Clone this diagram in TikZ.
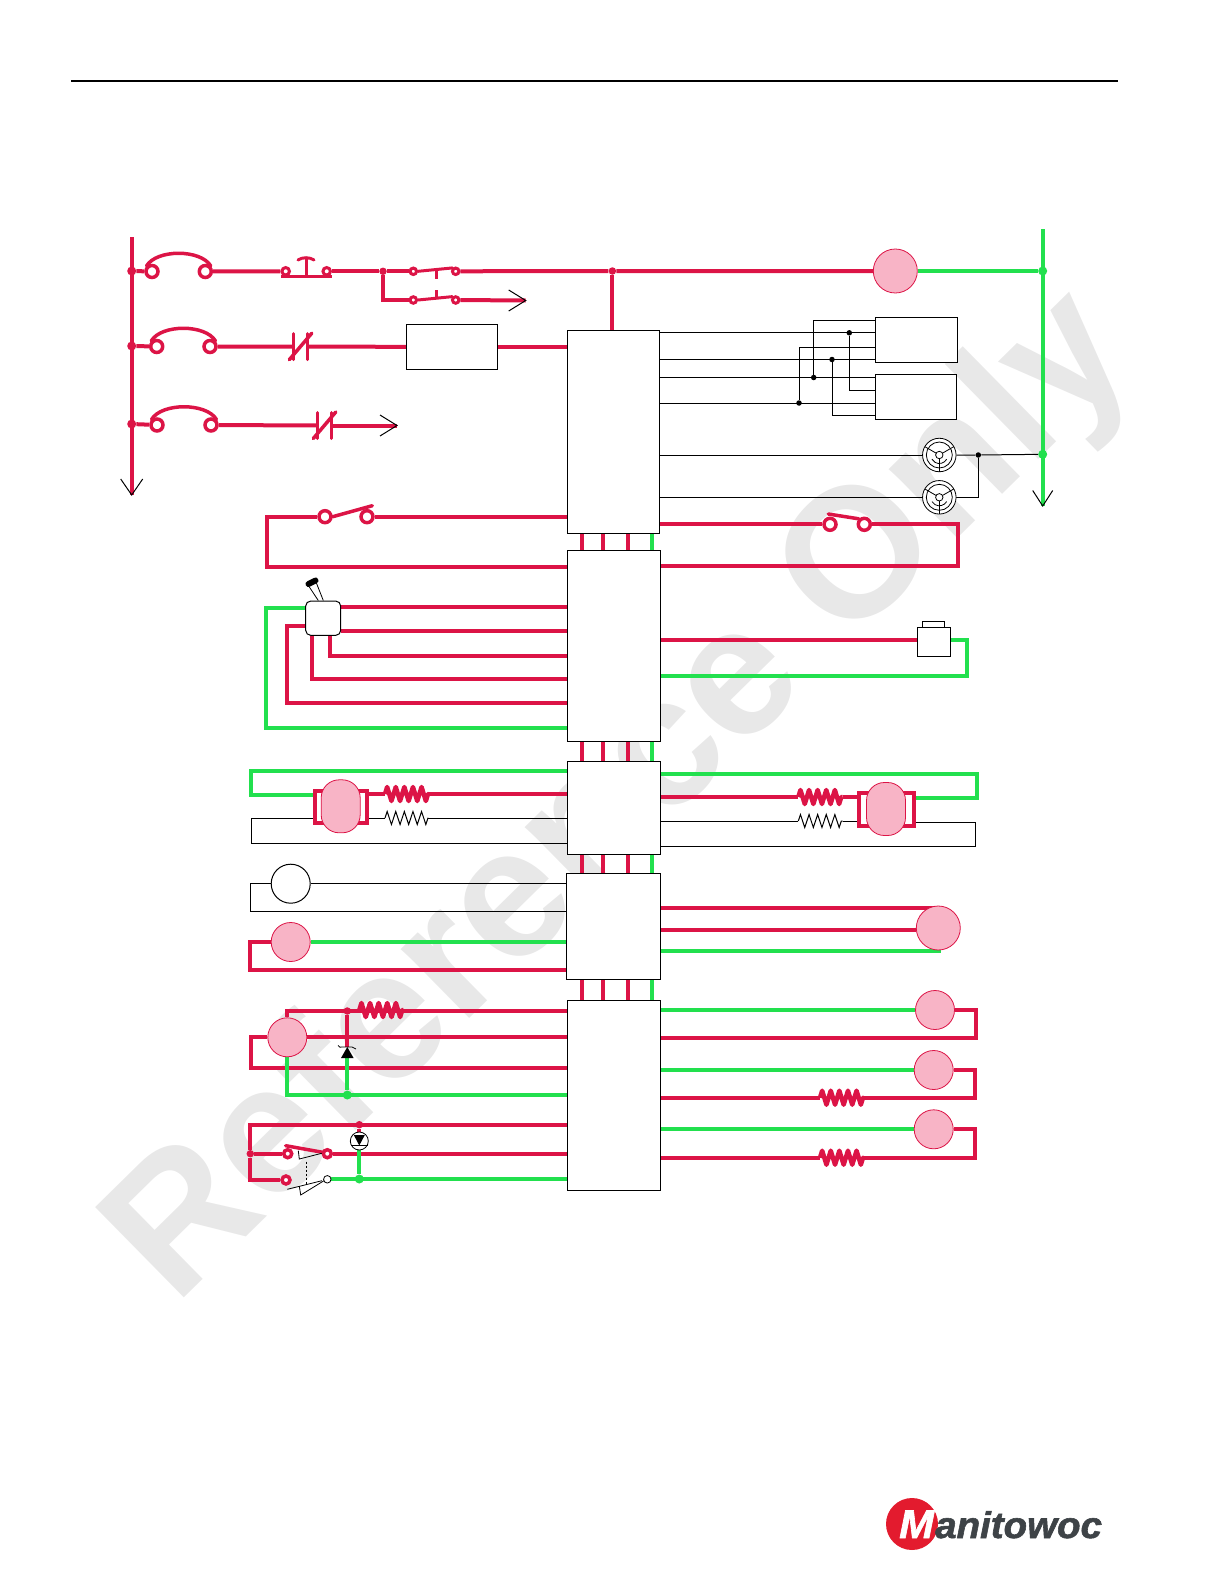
\documentclass[tikz,border=0pt]{standalone}
\usepackage{fontspec}
\newfontfamily\wmfont{Liberation Sans}
\newfontfamily\logofont{Liberation Sans}[FakeBold=1.6,FakeStretch=1.04]
\usetikzlibrary{decorations.pathmorphing}
\definecolor{wirered}{HTML}{DC1446}
\definecolor{wiregreen}{HTML}{22E04E}
\definecolor{pinkfill}{HTML}{F8B4C6}
\definecolor{wmgray}{HTML}{E8E8E8}
\definecolor{logored}{HTML}{E31B2E}
\definecolor{logogray}{HTML}{3E4347}
\pgfdeclarelayer{wmark}
\pgfdeclarelayer{wires}
\pgfsetlayers{wmark,wires,main}
\tikzset{
  redwire/.style={draw=wirered,line width=4},
  greenwire/.style={draw=wiregreen,line width=4},
  sigwire/.style={draw=black,line width=1},
  modbox/.style={draw=black,line width=1,fill=white,inner sep=0},
  pinkball/.style={circle,draw=wirered,line width=0.8,fill=pinkfill,inner sep=0,minimum size=39},
  pinkoval/.style={rectangle,rounded corners=18,draw=wirered,line width=0.8,fill=pinkfill,inner sep=0,minimum width=39,minimum height=53},
  clutchbox/.style={draw=wirered,line width=4,fill=white,inner sep=0,minimum width=52,minimum height=32},
  ring/.style={circle,draw=wirered,line width=3.5,fill=white,inner sep=0,minimum size=12},
  smallring/.style={circle,draw=wirered,line width=3,fill=white,inner sep=0,minimum size=6.5},
  reddot/.style={circle,fill=wirered,inner sep=0,minimum size=9},
  greendot/.style={circle,fill=wiregreen,inner sep=0,minimum size=9},
  blackdot/.style={circle,fill=black,inner sep=0,minimum size=5.5},
  lampsym/.style={circle,draw=black,line width=0.8,fill=white,inner sep=0,minimum size=33.5},
  coilred/.style={draw=wirered,line width=4.5,line join=round,decorate,decoration={zigzag,segment length=8.6,amplitude=7}},
  coilblack/.style={draw=black,line width=1,decorate,decoration={zigzag,segment length=8.6,amplitude=6.5}},
  armred/.style={draw=wirered,line width=3.5,line cap=round},
  tipmark/.style={draw=black,line width=1}
}
\begin{document}
\begin{tikzpicture}[x=1pt,y=-1pt]
	\useasboundingbox (0,0) rectangle (1224,1584);
	\begin{pgfonlayer}{wmark}
		\node[rotate=44.5,text=wmgray,font=\wmfont\bfseries\fontsize{184}{184}\selectfont] (wmtext) at (624,800) {Reference Only};
	\end{pgfonlayer}
	\draw[line width=1.6] (71,81) -- (1117.5,81);
	% modules
	\node[modbox,minimum width=92,minimum height=203] (modA) at (613.5,431.8) {};
	\node[modbox,minimum width=93,minimum height=191] (modB) at (614.2,646.2) {};
	\node[modbox,minimum width=93,minimum height=93] (modC) at (613.8,807.8) {};
	\node[modbox,minimum width=94,minimum height=106] (modD) at (613.3,926.3) {};
	\node[modbox,minimum width=93,minimum height=190.7] (modE) at (613.8,1095.6) {};
	\node[modbox,minimum width=90.7,minimum height=45] (boxP) at (452.3,346.8) {};
	\node[modbox,minimum width=82,minimum height=45] (boxA) at (916.3,339.8) {};
	\node[modbox,minimum width=81,minimum height=45] (boxB) at (915.8,396.8) {};
	\node[modbox,minimum width=22,minimum height=6] (capS) at (933.3,624.3) {};
	\node[modbox,minimum width=33.4,minimum height=29] (boxS) at (934,641.8) {};
	% rails and top rung
	\coordinate (railLtop) at (131.7,237);
	\coordinate (railLend) at (131.7,495);
	\coordinate (railRtop) at (1042.7,229);
	\coordinate (railRend) at (1042.7,506);
	\node[reddot] (dotRailA) at (131.7,271) {};
	\node[reddot] (dotRailB) at (131.7,346) {};
	\node[reddot] (dotRailC) at (131.7,424) {};
	\foreach \idx/\xa/\xb/\yy in {A/152/205.3/271.5,B/156.7/210/346.5,C/157/211/425}
	{
		\node[ring] (brk\idx a) at (\xa,\yy) {};
		\node[ring] (brk\idx b) at (\xb,\yy) {};
		\draw[armred] (brk\idx a.north west) .. controls +(10,-17) and +(-10,-17) .. (brk\idx b.north east);
	}
	\node[smallring,minimum size=7.5] (btnA) at (285.7,271.3) {};
	\node[smallring,minimum size=7.5] (btnB) at (326.7,271.3) {};
	\draw[armred,line cap=butt] (281,276.3) -- (332,276.3);
	\draw[armred,line width=3] (306,276) -- (306,258);
	\draw[armred,line width=3] (298,260) .. controls (302,257) and (310,257) .. (314,260);
	\node[reddot,minimum size=7.5] (dotSplit) at (383,271.3) {};
	\node[smallring] (nocAa) at (413.3,271.3) {};
	\node[smallring] (nocAb) at (455.7,271.3) {};
	\node[smallring] (nocBa) at (413.3,300) {};
	\node[smallring] (nocBb) at (455.7,300) {};
	\draw[armred,line width=3] (nocAa.east) -- (nocAb.north west);
	\draw[armred,line width=3] (nocBa.east) -- (nocBb.north west);
	\draw[armred,line width=3,line cap=butt] (436.7,270) -- (436.7,278.7);
	\draw[armred,line width=3,line cap=butt] (436.7,290) -- (436.7,298.5);
	\node[reddot,minimum size=7.5] (dotFeed) at (612.4,271) {};
	\node[pinkball,minimum size=44] (relayK) at (895.3,271) {};
	\node[greendot] (dotGndA) at (1042.7,271) {};
	\node[greendot] (dotGndB) at (1042.7,454.3) {};
	\coordinate (tipA) at (525.7,300.5);
	\coordinate (tipB) at (397,425.5);
	% normally closed contacts
	\foreach \name/\xa/\xb/\yy in {ncA/293.3/307.3/346.7,ncB/317.3/331.3/425.5}
	{
		\coordinate (\name l) at (\xa,\yy);
		\coordinate (\name r) at (\xb,\yy);
		\draw[armred,line width=3] (\xa,\yy-13) -- (\xa,\yy+13);
		\draw[armred,line width=3] (\xb,\yy-13) -- (\xb,\yy+13);
		\draw[armred] (\xa-4,\yy+13) -- (\xb+4.5,\yy-13.5);
	}
	% control lines
	\node[blackdot] (dotCtlA) at (849.3,332.8) {};
	\node[blackdot] (dotCtlB) at (832,359.5) {};
	\node[blackdot] (dotCtlC) at (813.7,377.5) {};
	\node[blackdot] (dotCtlD) at (799,403) {};
	\node[lampsym] (lampA) at (939.3,455) {};
	\node[lampsym] (lampB) at (939.3,497.3) {};
	\foreach \lamp in {lampA,lampB}
	{
		\draw[line width=0.8] (\lamp) circle (13);
		\draw[line width=0.8] (\lamp) ++(30:8.5) arc[start angle=30,end angle=150,radius=8.5];
		\foreach \ang in {90,210,330}
		{
			\draw[line width=0.8] (\lamp) ++(\ang:3.7) -- ++(\ang:13);
		}
		\draw[line width=0.8,fill=white] (\lamp) circle (3.7);
	}
	\node[blackdot] (dotLamp) at (978.3,455) {};
	% contacts beside modules
	\node[ring] (ctcA) at (830,524.3) {};
	\node[ring] (ctcB) at (864.3,524.3) {};
	\draw[armred] (828.3,514) -- (ctcB.north west);
	\node[ring] (ctcC) at (325,516.7) {};
	\node[ring] (ctcD) at (367,516.7) {};
	\draw[armred] (ctcC.east) -- (372.3,505.7);
	\coordinate (cornerA) at (958.3,524.3);
	\coordinate (cornerB) at (266.7,516.7);
	% joystick
	\node[modbox,rounded corners=5,minimum width=35,minimum height=34.3] (joyS) at (323.2,618.2) {};
	\draw[line width=0.8] (318.3,600.5) -- (308,585);
	\draw[line width=0.8] (323.3,600.5) -- (316,582);
	\draw[line width=6,line cap=round] (308.5,584) -- (315.5,580.5);
	\coordinate (joyCa) at (265.7,608.3);
	\coordinate (joyCb) at (287,626);
	\coordinate (joyCc) at (330,655.7);
	\coordinate (joyCd) at (312,679);
	\coordinate (cornerS) at (967.3,640);
	% clutches
	\node[clutchbox] (clutchA) at (340.5,806.7) {};
	\node[pinkoval] (ovalA) at (340.7,806.3) {};
	\node[clutchbox,minimum width=55,minimum height=33] (clutchB) at (886.7,809.2) {};
	\node[pinkoval] (ovalB) at (886,809) {};
	\coordinate (coilAa) at (385,794);
	\coordinate (coilAb) at (428.3,794);
	\coordinate (resAa) at (385,818);
	\coordinate (resAb) at (428.3,818);
	\coordinate (coilBa) at (798.3,797);
	\coordinate (coilBb) at (842.7,797);
	\coordinate (resBa) at (798.3,821);
	\coordinate (resBb) at (842.7,821);
	% balls
	\node[modbox,circle,minimum size=39] (ballW) at (290.7,883.7) {};
	\node[pinkball] (ballF) at (290.7,942) {};
	\node[pinkball,minimum size=44] (ballG) at (938.3,928) {};
	\node[pinkball] (ballH) at (287.3,1037.3) {};
	\node[pinkball] (ballJ) at (935,1010) {};
	\node[pinkball] (ballK) at (933.7,1070) {};
	\node[pinkball] (ballL) at (933.7,1129.3) {};
	\coordinate (coilCa) at (359.3,1010);
	\coordinate (coilCb) at (403.3,1010);
	\coordinate (coilDa) at (820,1097.7);
	\coordinate (coilDb) at (863.3,1097.7);
	\coordinate (coilEa) at (820,1157.7);
	\coordinate (coilEb) at (863.3,1157.7);
	% diode, key switch and pilot lamp
	\node[reddot,minimum size=7.5] (dotDiodeA) at (347.3,1011) {};
	\node[greendot] (dotDiodeB) at (347.3,1095) {};
	\fill (347.3,1047) -- (353.6,1058) -- (341,1058) -- cycle;
	\draw[line width=0.8] (338,1045.5) .. controls (340,1047.5) .. (342,1047) -- (352,1047) .. controls (354,1047.5) .. (356,1049);
	\coordinate (diodeTop) at (347.3,1047);
	\coordinate (diodeBot) at (347.3,1058);
	\node[reddot,minimum size=7.5] (dotKeyA) at (250.3,1153.7) {};
	\node[reddot,minimum size=7.5] (dotKeyB) at (359.3,1124.7) {};
	\node[greendot] (dotKeyC) at (359.3,1179) {};
	\node[ring,minimum size=8] (keyA) at (287.7,1153.7) {};
	\node[ring,minimum size=8] (keyB) at (327.3,1153.7) {};
	\node[ring,minimum size=8] (keyC) at (286,1180) {};
	\node[circle,draw=black,line width=0.8,fill=white,inner sep=0,minimum size=7.5] (keyD) at (327.3,1179.3) {};
	\draw[armred] (285.7,1145.7) -- (322.7,1152.3);
	\draw[line width=0.8] (298.3,1150.7) -- (299.3,1159) -- (321.7,1153.3);
	\draw[line width=0.8] (287.3,1189.3) -- (322,1180.7);
	\draw[line width=0.8] (299.3,1186) -- (300.7,1195) -- (324,1180.7);
	\draw[line width=0.8,dashed,dash pattern=on 2pt off 2pt] (306.3,1161.7) -- (306.3,1184);
	\node[circle,draw=black,line width=0.8,fill=white,inner sep=0,minimum size=18] (pilotL) at (359.3,1141) {};
	\fill (353.8,1135) -- (364.8,1135) -- (359.3,1145.5) -- cycle;
	\draw[line width=0.8] (351,1145.5) -- (367.6,1145.5);
	% logo
	\node[circle,fill=logored,inner sep=0,minimum size=52] (logoDisk) at (912,1524) {};
	\node[anchor=base west,inner sep=0,text=white,font=\logofont\bfseries\itshape\fontsize{40}{40}\selectfont] (logoM) at (899,1538) {M};
	\node[anchor=base west,inner sep=0,text=logogray,font=\logofont\bfseries\itshape\fontsize{37}{37}\selectfont] (logoT) at (935,1538) {anitowoc};
	\begin{pgfonlayer}{wires}
		% stubs between modules
		\foreach \xx/\wire in {582/redwire,603/redwire,628/redwire,652/greenwire}
		{
			\foreach \upper/\lower in {modA/modB,modB/modC,modC/modD,modD/modE}
			{
				\draw[\wire] (\xx,0 |- \upper.south) -- (\xx,0 |- \lower.north);
			}
		}
		\draw[redwire] (railLtop) -- (railLend);
		\draw[greenwire] (railRtop) -- (railRend);
		\draw[redwire] (dotRailA) -- (brkAa);
		\draw[redwire] (brkAb) -- (btnA);
		\draw[redwire] (btnB) -- (dotSplit) -- (nocAa);
		\draw[redwire] (nocAb) -- (dotFeed) -- (relayK);
		\draw[redwire] (dotFeed) -- (dotFeed |- modA.north);
		\draw[greenwire] (relayK) -- (dotGndA);
		\draw[redwire] (dotSplit) |- (nocBa);
		\draw[redwire] (nocBb) -- (tipA);
		\draw[redwire] (dotRailB) -- (brkBa);
		\draw[redwire] (brkBb) -- (ncAl);
		\draw[redwire] (ncAr) -- (boxP);
		\draw[redwire] (boxP) -- (modA.west |- boxP);
		\draw[redwire] (dotRailC) -- (brkCa);
		\draw[redwire] (brkCb) -- (ncBl);
		\draw[redwire] (ncBr) -- (tipB);
		% lines right of first module
		\draw[sigwire] (modA.east |- dotCtlA) -- (boxA.west |- dotCtlA);
		\draw[sigwire] (modA.east |- dotCtlB) -- (boxA.west |- dotCtlB);
		\draw[sigwire] (modA.east |- dotCtlC) -- (boxB.west |- dotCtlC);
		\draw[sigwire] (modA.east |- dotCtlD) -- (boxB.west |- dotCtlD);
		\draw[sigwire] (dotCtlA) |- (boxB.west |- 0,390);
		\draw[sigwire] (dotCtlB) |- (boxB.west |- 0,415.7);
		\draw[sigwire] (dotCtlC) |- (boxA.west |- 0,320.3);
		\draw[sigwire] (dotCtlD) |- (boxA.west |- 0,347.3);
		\draw[sigwire] (modA.east |- lampA) -- (lampA);
		\draw[sigwire] (lampA) -- (dotLamp) -- (dotGndB);
		\draw[sigwire] (modA.east |- lampB) -- (lampB);
		\draw[sigwire] (lampB) -| (dotLamp);
		\draw[redwire] (modA.east |- ctcA) -- (ctcA);
		\draw[redwire] (ctcB) -- (cornerA) |- (modB.east |- 0,565.7);
		\draw[redwire] (modA.west |- ctcD) -- (ctcD);
		\draw[redwire] (ctcC) -- (cornerB) |- (modB.west |- 0,566.7);
		% joystick wires
		\draw[greenwire] (joyS.west |- joyCa) -- (joyCa) |- (modB.west |- 0,727.7);
		\draw[redwire] (joyS.west |- joyCb) -- (joyCb) |- (modB.west |- 0,703);
		\draw[redwire] (joyS.east |- 0,607) -- (modB.west |- 0,607);
		\draw[redwire] (joyS.east |- 0,631) -- (modB.west |- 0,631);
		\draw[redwire] (joyCc |- joyS.south) -- (joyCc) -- (modB.west |- joyCc);
		\draw[redwire] (joyCd |- joyS.south) -- (joyCd) -- (modB.west |- joyCd);
		\draw[redwire] (modB.east |- cornerS) -- (boxS.west |- cornerS);
		\draw[greenwire] (boxS.east |- cornerS) -- (cornerS) |- (modB.east |- 0,676);
		% clutch wires, left
		\draw[greenwire] (modC.west |- 0,771) -| (250.7,795) -- (clutchA.west |- 0,795);
		\draw[redwire] (clutchA.east |- coilAa) -- (coilAa);
		\draw[coilred] (coilAa) -- (coilAb);
		\draw[redwire] (coilAb) -- (modC.west |- coilAb);
		\draw[sigwire] (clutchA.east |- resAa) -- (resAa);
		\draw[coilblack] (resAa) -- (resAb);
		\draw[sigwire] (resAb) -- (modC.west |- resAb);
		\draw[sigwire] (clutchA.west |- resAa) -| (251.3,843.3) -- (modC.west |- 0,843.3);
		% clutch wires, right
		\draw[greenwire] (modC.east |- 0,774) -| (976.7,798) -- (clutchB.east |- 0,798);
		\draw[redwire] (modC.east |- coilBa) -- (coilBa);
		\draw[coilred] (coilBa) -- (coilBb);
		\draw[redwire] (coilBb) -- (clutchB.west |- coilBb);
		\draw[sigwire] (modC.east |- resBa) -- (resBa);
		\draw[coilblack] (resBa) -- (resBb);
		\draw[sigwire] (resBb) -- (clutchB.west |- resBb);
		\draw[sigwire] (clutchB.east |- 0,822.3) -| (975.7,846.3) -- (modC.east |- 0,846.3);
		% balls on fourth module
		\draw[sigwire] (ballW) -- (modD.west |- ballW);
		\draw[sigwire] (ballW) -| (250.3,911.3) -- (modD.west |- 0,911.3);
		\draw[greenwire] (ballF) -- (modD.west |- ballF);
		\draw[redwire] (ballF) -| (249.7,970) -- (modD.west |- 0,970);
		\draw[redwire] (modD.east |- 0,907.7) -- (ballG.north |- 0,907.7);
		\draw[redwire] (modD.east |- 0,929.7) -- (ballG.west |- 0,929.7);
		\draw[greenwire] (modD.east |- 0,950.7) -- (940.7,950.7);
		% last module, left
		\draw[redwire] (ballH) |- (modE.west |- 0,1011);
		\draw[coilred] (coilCa) -- (coilCb);
		\draw[redwire] (ballH) -- (modE.west |- ballH);
		\draw[redwire] (ballH) -| (250.7,1067.7) -- (modE.west |- 0,1067.7);
		\draw[greenwire] (ballH) |- (modE.west |- dotDiodeB);
		\draw[redwire] (dotDiodeA) -- (diodeTop);
		\draw[greenwire] (diodeBot) -- (dotDiodeB);
		\draw[redwire] (modE.west |- dotKeyB) -| (dotKeyA);
		\draw[redwire] (dotKeyB) -- (pilotL);
		\draw[redwire] (dotKeyA) |- (keyC);
		\draw[redwire] (dotKeyA) -- (keyA);
		\draw[redwire] (keyB) -- (modE.west |- keyB);
		\draw[greenwire] (keyD) -- (modE.west |- keyD);
		\draw[greenwire] (pilotL) -- (dotKeyC);
		% last module, right
		\draw[greenwire] (modE.east |- ballJ) -- (ballJ);
		\draw[redwire] (ballJ) -| (976,1038) -- (modE.east |- 0,1038);
		\draw[greenwire] (modE.east |- ballK) -- (ballK);
		\draw[redwire] (ballK) -| (975,1097.7) -- (coilDb);
		\draw[coilred] (coilDa) -- (coilDb);
		\draw[redwire] (coilDa) -- (modE.east |- coilDa);
		\draw[greenwire] (modE.east |- ballL) -- (ballL);
		\draw[redwire] (ballL) -| (975,1157.7) -- (coilEb);
		\draw[coilred] (coilEa) -- (coilEb);
		\draw[redwire] (coilEa) -- (modE.east |- coilEa);
	\end{pgfonlayer}
	% open arrow marks
	\draw[tipmark] (railLend) ++(-11,-16) -- (railLend) -- ++(11,-16);
	\draw[tipmark] (railRend) ++(-10,-15.5) -- (railRend) -- ++(10,-15.5);
	\draw[tipmark] (tipA) ++(-17,-10.5) -- (tipA) -- ++(-17,10.5);
	\draw[tipmark] (tipB) ++(-17,-10.5) -- (tipB) -- ++(-17,10.5);
\end{tikzpicture}
\end{document}
